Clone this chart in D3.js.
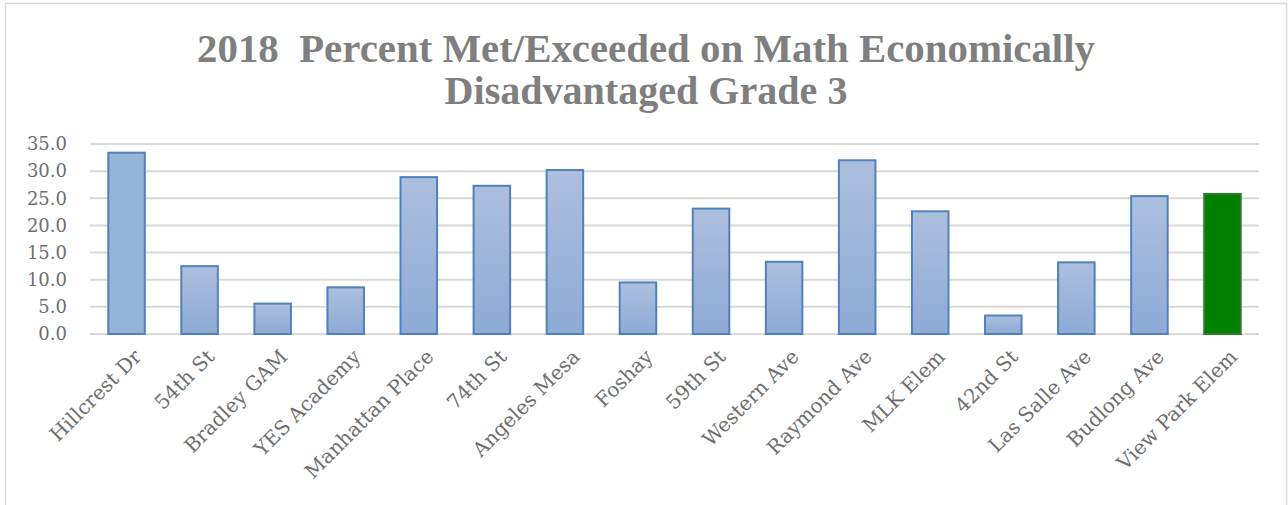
<!DOCTYPE html>
<html>
<head>
<meta charset="utf-8">
<script src="https://cdn.jsdelivr.net/npm/d3@7"></script>
<style>
  body { margin: 0; background: #fff; }
</style>
</head>
<body>
<div id="chart"></div>
<script>
// data
var schools = ["Hillcrest Dr", "54th St", "Bradley GAM", "YES Academy", "Manhattan Place",
  "74th St", "Angeles Mesa", "Foshay", "59th St", "Western Ave", "Raymond Ave",
  "MLK Elem", "42nd St", "Las Salle Ave", "Budlong Ave", "View Park Elem"]
var pctMet = [33.4, 12.5, 5.6, 8.6, 28.9, 27.3, 30.2, 9.5, 23.1, 13.3, 32.0, 22.6, 3.4, 13.2, 25.4, 25.8]
var yTicks = [0, 5, 10, 15, 20, 25, 30, 35]
var titleLines = ["2018  Percent Met/Exceeded on Math Economically", "Disadvantaged Grade 3"]

var W = 1288, H = 505
var svg = d3.select("#chart").append("svg")
    .attr("width", W)
    .attr("height", H)

// gradient for the blue bars
var defs = svg.append("defs")
var grad = defs.append("linearGradient")
    .attr("id", "blueGrad")
    .attr("x1", 0).attr("y1", 0).attr("x2", 0).attr("y2", 1)
grad.append("stop").attr("offset", "0%").attr("stop-color", "#adbfdd")
grad.append("stop").attr("offset", "100%").attr("stop-color", "#8eaad6")

// chart frame
svg.append("rect")
    .attr("x", 5.5).attr("y", 3.5)
    .attr("width", 1281).attr("height", 520)
    .attr("fill", "none")
    .attr("stroke", "#d9d9d9")
    .attr("stroke-width", 1.5)

// title, sized to fit the width it has in the reference
var titleWidths = [898, 403]
var title = svg.append("g")
titleLines.forEach(function(line, i) {
  var t = title.append("text")
      .attr("x", 646)
      .attr("y", i == 0 ? 62 : 104)
      .attr("text-anchor", "middle")
      .style("font-family", "'Liberation Serif', serif")
      .style("font-weight", "bold")
      .style("font-size", "30px")
      .style("fill", "#7f7f7f")
      .style("white-space", "pre")
      .text(line)
  var len = t.node().getComputedTextLength()
  t.style("font-size", (30 * titleWidths[i] / len) + "px")
})

var x = d3.scaleBand()
    .domain(schools)
    .range([90, 1259])
    .paddingInner(0.5)
    .paddingOuter(0.25)

var y = d3.scaleLinear()
    .domain([0, 35])
    .range([334, 144])

// gridlines
svg.append("g")
    .selectAll("line")
    .data(yTicks)
    .enter()
    .append("line")
      .attr("x1", 90).attr("x2", 1259)
      .attr("y1", function(d) { return y(d) })
      .attr("y2", function(d) { return y(d) })
      .attr("stroke", "#d9d9d9")
      .attr("stroke-width", 2)

// y axis labels
var yAxis = d3.axisLeft(y)
    .tickValues(yTicks)
    .tickFormat(d3.format(".1f"))
    .tickSize(0)
    .tickPadding(0)
var ya = svg.append("g")
    .attr("transform", "translate(67,0)")
    .call(yAxis)
ya.select(".domain").remove()
ya.selectAll("text")
    .style("font-family", "'DejaVu Serif', serif")
    .style("font-size", "18px")
    .style("fill", "#6e6e6e")

// bars
svg.append("g")
    .selectAll("rect")
    .data(pctMet)
    .enter()
    .append("rect")
      .attr("x", function(d, i) { return x(schools[i]) })
      .attr("width", x.bandwidth())
      .attr("y", function(d) { return y(d) })
      .attr("height", function(d) { return y(0) - y(d) })
      .style("fill", function(d, i) {
        if (i == schools.length - 1) return "#008000"
        if (i == 0) return "#95b3d7"
        return "url(#blueGrad)"
      })
      .style("stroke", function(d, i) { return i == schools.length - 1 ? "#2f7a2f" : "#4f81bd" })
      .style("stroke-width", 2)

// x axis labels, rotated
var xAxis = d3.axisBottom(x).tickSize(0).tickPadding(0)
var xa = svg.append("g")
    .attr("transform", "translate(0,334)")
    .call(xAxis)
xa.select(".domain").remove()
xa.selectAll("text")
    .attr("y", 0)
    .attr("dy", 0)
    .attr("text-anchor", "end")
    .attr("transform", "translate(16,24) rotate(-45)")
    .style("font-family", "'DejaVu Serif', serif")
    .style("font-size", "20px")
    .style("fill", "#6e6e6e")
</script>
</body>
</html>
